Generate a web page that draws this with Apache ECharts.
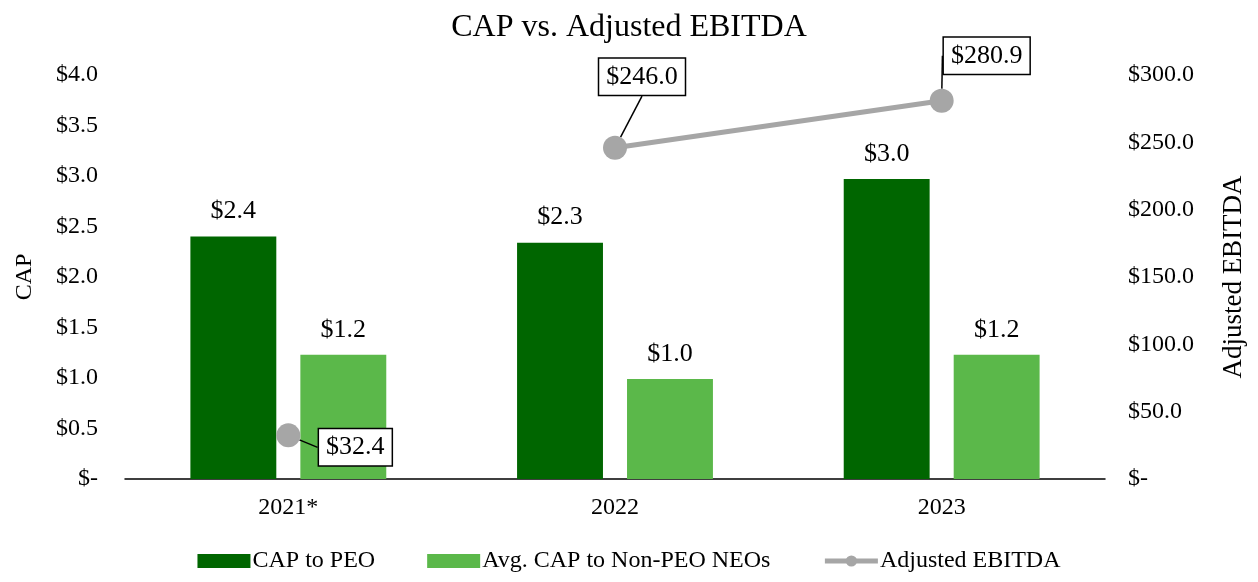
<!DOCTYPE html>
<html>
<head>
<meta charset="utf-8">
<script src="https://cdn.jsdelivr.net/npm/echarts@6/dist/echarts.min.js"></script>
<style>html,body{margin:0;padding:0;background:#fff;}#c{width:1258px;height:582px;}</style>
</head>
<body>
<div id="c"></div>
<script>
const categories = ['2021*', '2022', '2023'];
const capToPeo = [2.40, 2.34, 2.97];
const avgCapNonPeo = [1.23, 0.99, 1.23];
const ebitdaLine = [null, 246.0, 280.9];
const ebitdaIsolated = [32.4, null, null];
const leftTicks = ['$-', '$0.5', '$1.0', '$1.5', '$2.0', '$2.5', '$3.0', '$3.5', '$4.0'];
const rightTicks = ['$-', '$50.0', '$100.0', '$150.0', '$200.0', '$250.0', '$300.0'];

const FONT = '"Liberation Serif", "Times New Roman", serif';
const labelOffsets = { 0: [67, 12], 1: [27, -71], 2: [45, -45] };

const chart = echarts.init(document.getElementById('c'));
const boxLabel = {
  show: true,
  position: 'inside',
  formatter: p => '$' + p.value.toFixed(1),
  fontFamily: FONT,
  fontSize: 26,
  color: '#000',
  backgroundColor: '#fff',
  borderColor: '#000',
  borderWidth: 1.5,
  padding: [6, 7, 4, 7]
};
const layoutFn = p => {
  const o = labelOffsets[p.dataIndex] || [0, 0];
  return { dx: o[0], dy: o[1] };
};
chart.setOption({
  animation: false,
  textStyle: { fontFamily: FONT },
  title: {
    text: 'CAP vs. Adjusted EBITDA',
    left: 'center',
    top: 7,
    textStyle: { fontFamily: FONT, fontSize: 32, fontWeight: 'normal', color: '#000' }
  },
  legend: {
    bottom: 4,
    left: 'center',
    itemWidth: 53,
    itemHeight: 14,
    itemGap: 52,
    textStyle: { fontFamily: FONT, fontSize: 24, color: '#000', padding: [0, 0, 0, -3] },
    data: [
      { name: 'CAP to PEO', icon: 'rect' },
      { name: 'Avg. CAP to Non-PEO NEOs', icon: 'rect' },
      { name: 'Adjusted EBITDA', lineStyle: { width: 5, color: '#a6a6a6' }, itemStyle: { color: '#a6a6a6' } }
    ]
  },
  grid: { left: 125, right: 153, top: 75, bottom: 103, containLabel: false, outerBoundsMode: 'none' },
  xAxis: {
    type: 'category',
    data: categories,
    axisLine: { lineStyle: { color: '#000', width: 1.5 } },
    axisTick: { show: false },
    axisLabel: { fontFamily: FONT, fontSize: 24, color: '#000', margin: 17 }
  },
  yAxis: [{
    type: 'value',
    min: 0, max: 4, interval: 0.5,
    name: 'CAP',
    nameLocation: 'middle',
    nameGap: 88,
    nameRotate: 90,
    nameTextStyle: { fontFamily: FONT, fontSize: 24, color: '#000' },
    axisLine: { show: false },
    axisTick: { show: false },
    splitLine: { show: false },
    axisLabel: {
      fontFamily: FONT, fontSize: 24, color: '#000', margin: 27,
      formatter: (v) => leftTicks[Math.round(v / 0.5)]
    }
  }, {
    type: 'value',
    min: 0, max: 300, interval: 50,
    name: 'Adjusted EBITDA',
    nameLocation: 'middle',
    nameGap: 115,
    nameRotate: 90,
    nameTextStyle: { fontFamily: FONT, fontSize: 27, color: '#000' },
    axisLine: { show: false },
    axisTick: { show: false },
    splitLine: { show: false },
    axisLabel: {
      fontFamily: FONT, fontSize: 24, color: '#000', margin: 23,
      formatter: (v) => rightTicks[Math.round(v / 50)]
    }
  }],
  series: [{
    name: 'CAP to PEO',
    type: 'bar',
    data: capToPeo,
    barWidth: '26.3%',
    barGap: '28%',
    itemStyle: { color: '#006600' },
    label: {
      show: true, position: 'top', distance: 12,
      formatter: p => '$' + p.value.toFixed(1),
      fontFamily: FONT, fontSize: 26, color: '#000'
    }
  }, {
    name: 'Avg. CAP to Non-PEO NEOs',
    type: 'bar',
    data: avgCapNonPeo,
    barWidth: '26.3%',
    itemStyle: { color: '#5bb84a' },
    label: {
      show: true, position: 'top', distance: 12,
      formatter: p => '$' + p.value.toFixed(1),
      fontFamily: FONT, fontSize: 26, color: '#000'
    }
  }, {
    name: 'Adjusted EBITDA',
    type: 'line',
    yAxisIndex: 1,
    data: ebitdaLine,
    connectNulls: false,
    symbol: 'circle',
    symbolSize: 24,
    lineStyle: { color: '#a6a6a6', width: 5 },
    itemStyle: { color: '#a6a6a6' },
    label: boxLabel,
    labelLine: { show: true, lineStyle: { color: '#000', width: 1.5 } },
    labelLayout: layoutFn,
    z: 5
  }, {
    name: 'Adjusted EBITDA',
    type: 'line',
    yAxisIndex: 1,
    data: ebitdaIsolated,
    symbol: 'circle',
    symbolSize: 24,
    showAllSymbol: true,
    lineStyle: { color: '#a6a6a6', width: 5 },
    itemStyle: { color: '#a6a6a6' },
    label: boxLabel,
    labelLine: { show: true, lineStyle: { color: '#000', width: 1.5 } },
    labelLayout: layoutFn,
    z: 5
  }]
});
</script>
</body>
</html>
